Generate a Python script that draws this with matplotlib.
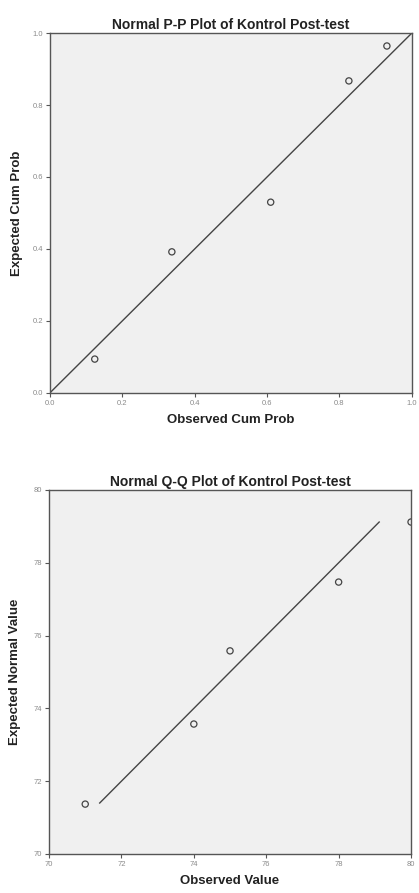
import matplotlib
matplotlib.use("Agg")
import matplotlib.pyplot as plt

plt.rcParams['font.family'] = ['Liberation Sans', 'DejaVu Sans']

# P-P plot data
pp_observed = [0.124, 0.337, 0.61, 0.826, 0.931]
pp_expected = [0.094, 0.392, 0.53, 0.867, 0.964]
pp_ticks = [0.0, 0.2, 0.4, 0.6, 0.8, 1.0]

# Q-Q plot data
qq_observed = [71, 74, 75, 78, 80]
qq_expected = [71.37, 73.57, 75.58, 77.47, 79.12]
qq_line = [71.4, 79.12]
qq_ticks = [70, 72, 74, 76, 78, 80]

bg = '#f0f0f0'
edge = '#555555'
tick_col = '#8a8a8a'

fig = plt.figure(figsize=(4.19, 8.93), dpi=100)
ax1 = fig.add_axes([0.119, 0.560, 0.864, 0.403])
ax2 = fig.add_axes([0.117, 0.0437, 0.864, 0.4076])


def style(ax, ticks, fmt):
    ax.set_facecolor(bg)
    for s in ax.spines.values():
        s.set_color(edge)
        s.set_linewidth(1.0)
    ax.set_xticks(ticks)
    ax.set_yticks(ticks)
    ax.set_xticklabels([fmt(t) for t in ticks])
    ax.set_yticklabels([fmt(t) for t in ticks])
    ax.tick_params(direction='out', length=3, width=0.8, color=edge,
                   labelsize=5.5, labelcolor=tick_col, pad=2)
    ax.set_xlim(ticks[0], ticks[-1])
    ax.set_ylim(ticks[0], ticks[-1])


# top: P-P
style(ax1, pp_ticks, lambda t: f"{t:.1f}")
ax1.plot([0, 1], [0, 1], color='#444444', lw=1.0)
ax1.scatter(pp_observed, pp_expected, s=20, facecolors='none',
            edgecolors='#444444', linewidths=0.9, zorder=3)
ax1.set_title("Normal P-P Plot of Kontrol Post-test", fontsize=10,
              fontweight='bold', color='#222222', pad=3)
ax1.set_xlabel("Observed Cum Prob", fontsize=9.5, fontweight='bold',
               color='#222222', labelpad=5)
ax1.set_ylabel("Expected Cum Prob", fontsize=9.5, fontweight='bold',
               color='#222222', labelpad=7)

# bottom: Q-Q
style(ax2, qq_ticks, lambda t: f"{t:d}")
ax2.plot(qq_line, qq_line, color='#444444', lw=1.0)
ax2.scatter(qq_observed, qq_expected, s=20, facecolors='none',
            edgecolors='#444444', linewidths=0.9, zorder=3)
ax2.set_title("Normal Q-Q Plot of Kontrol Post-test", fontsize=10,
              fontweight='bold', color='#222222', pad=3)
ax2.set_xlabel("Observed Value", fontsize=9.5, fontweight='bold',
               color='#222222', labelpad=5)
ax2.set_ylabel("Expected Normal Value", fontsize=9.5, fontweight='bold',
               color='#222222', labelpad=9)

fig.savefig("out.png", dpi=100, facecolor='white')
